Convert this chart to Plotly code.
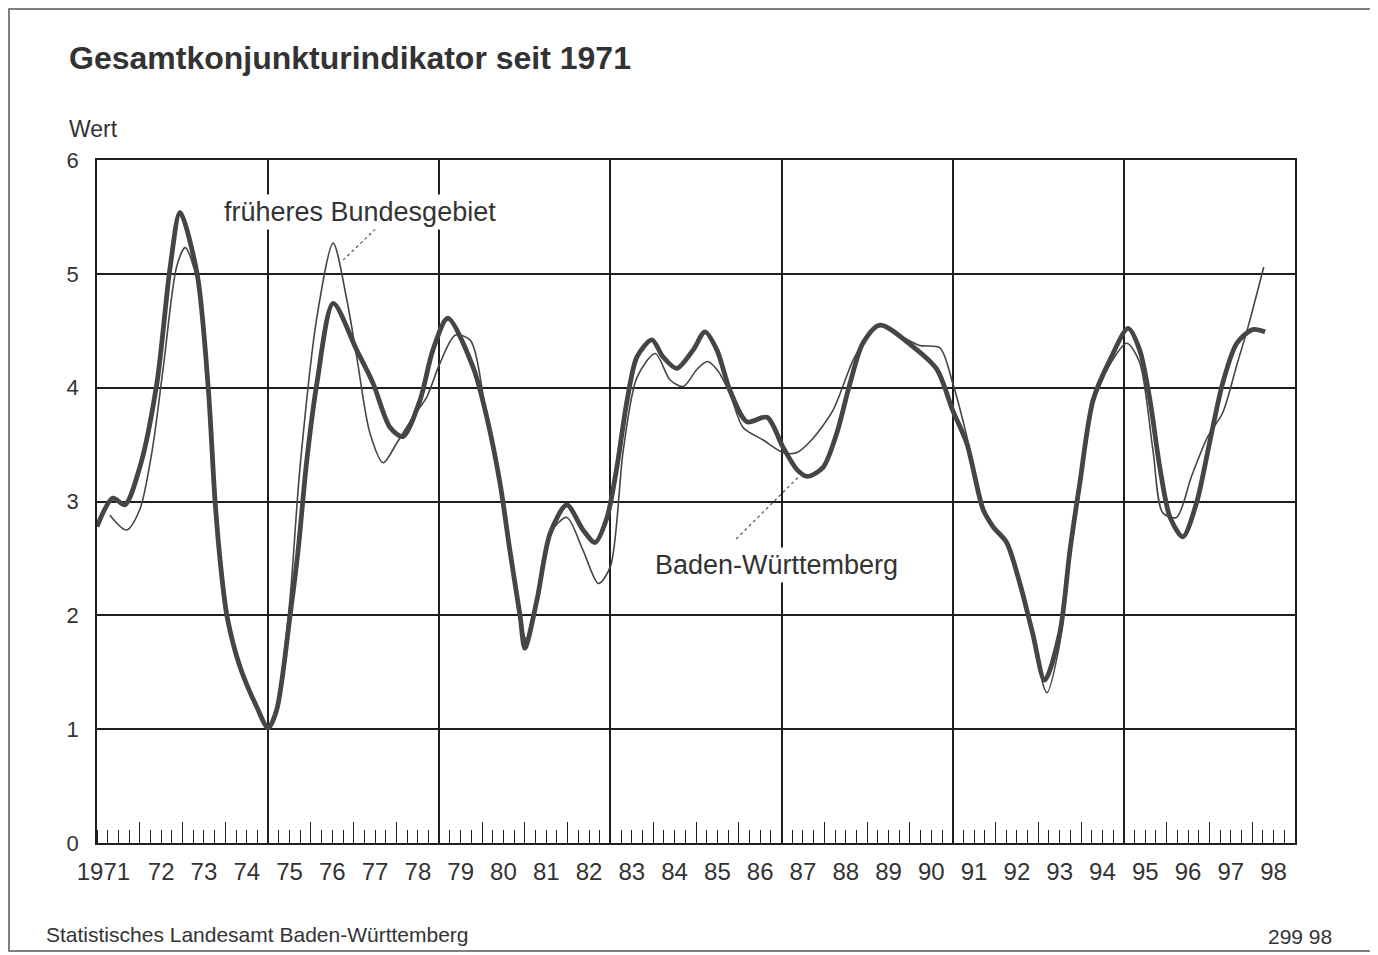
import plotly.graph_objects as go

# ---- data (decimal years) ----
bw_t = [1971.0, 1971.37, 1971.65, 1972.0, 1972.4, 1972.71, 1972.94, 1973.34, 1973.6, 1973.76, 1973.9,
        1974.04, 1974.34, 1974.74, 1975.0, 1975.2, 1975.51, 1975.7, 1975.9, 1976.14, 1976.52,
        1977.07, 1977.45, 1977.85, 1978.15, 1978.55, 1978.85, 1979.2, 1979.79, 1980.11, 1980.42,
        1980.65, 1980.89, 1981.0, 1981.28, 1981.59, 1981.98, 1982.36, 1982.64, 1982.92, 1983.15,
        1983.39, 1983.62, 1983.97, 1984.23, 1984.55, 1984.93, 1985.21, 1985.49, 1985.79, 1986.19,
        1986.66, 1987.03, 1987.36, 1987.6, 1987.97, 1988.29, 1988.6, 1988.9, 1989.3, 1990.07,
        1990.63, 1991.0, 1991.33, 1991.71, 1991.94, 1992.26, 1992.57, 1992.87, 1993.15, 1993.5,
        1993.74, 1993.97, 1994.28, 1994.67, 1995.1, 1995.37, 1995.61, 1995.84, 1996.08, 1996.38,
        1996.7, 1997.0, 1997.31, 1997.64, 1998.01, 1998.3]
bw_v = [2.78, 3.03, 2.97, 3.30, 4.04, 5.06, 5.54, 5.00, 4.00, 3.00, 2.40,
        1.99, 1.55, 1.19, 1.01, 1.17, 1.99, 2.57, 3.35, 4.04, 4.74,
        4.33, 4.04, 3.65, 3.57, 3.89, 4.33, 4.61, 4.18, 3.74, 3.16,
        2.57, 1.99, 1.71, 2.13, 2.72, 2.97, 2.75, 2.64, 2.86, 3.30,
        3.89, 4.27, 4.42, 4.27, 4.17, 4.33, 4.49, 4.33, 3.98, 3.70,
        3.74, 3.48, 3.28, 3.22, 3.30, 3.60, 4.04, 4.39, 4.55, 4.36,
        4.16, 3.80, 3.51, 2.93, 2.78, 2.64, 2.28, 1.84, 1.43, 1.84,
        2.57, 3.16, 3.89, 4.24, 4.52, 4.33, 3.89, 3.30, 2.86, 2.69,
        2.99, 3.51, 4.04, 4.39, 4.51, 4.49]

fb_t = [1971.3, 1971.69, 1972.0, 1972.29, 1972.55, 1972.86, 1973.06, 1973.34, 1973.6, 1973.76,
        1974.04, 1974.34, 1974.74, 1975.0, 1975.2, 1975.5, 1975.74, 1976.14, 1976.52, 1976.84,
        1977.07, 1977.38, 1977.69, 1978.0, 1978.4, 1978.71, 1979.0, 1979.37, 1979.72, 1980.11,
        1980.42, 1980.65, 1980.89, 1981.05, 1981.3, 1981.59, 1981.98, 1982.36, 1982.72, 1983.0,
        1983.3, 1983.62, 1984.05, 1984.39, 1984.7, 1985.02, 1985.26, 1985.49, 1985.79, 1986.1,
        1986.57, 1987.03, 1987.36, 1987.7, 1988.2, 1988.67, 1989.0, 1989.3, 1989.8, 1990.23,
        1990.7, 1991.0, 1991.33, 1991.71, 1991.94, 1992.26, 1992.57, 1992.87, 1993.2, 1993.5,
        1993.74, 1993.97, 1994.28, 1994.67, 1995.07, 1995.37, 1995.68, 1995.91, 1996.23, 1996.58,
        1996.96, 1997.31, 1997.64, 1997.9, 1998.27]
fb_v = [2.88, 2.75, 2.93, 3.45, 4.18, 5.06, 5.23, 4.95, 3.95, 2.95,
        1.97, 1.53, 1.18, 1.00, 1.20, 2.10, 3.28, 4.62, 5.27, 4.77,
        4.27, 3.60, 3.34, 3.51, 3.75, 3.92, 4.20, 4.46, 4.42, 3.74,
        3.16, 2.55, 1.95, 1.78, 2.20, 2.72, 2.86, 2.57, 2.28, 2.43,
        3.45, 4.09, 4.30, 4.07, 4.01, 4.16, 4.23, 4.16, 3.95, 3.65,
        3.54, 3.43, 3.43, 3.54, 3.80, 4.24, 4.45, 4.55, 4.45, 4.37,
        4.35, 4.04, 3.57, 2.93, 2.78, 2.64, 2.28, 1.80, 1.32, 1.75,
        2.50, 3.10, 3.85, 4.20, 4.39, 4.22, 3.45, 2.90, 2.86, 3.22,
        3.57, 3.78, 4.20, 4.53, 5.06]

year_label_pos = [1971.15] + [1972.5 + i for i in range(27)]
year_labels = ["1971"] + [str(y)[2:] for y in range(1972, 1999)]
year_bounds = list(range(1971, 2000))
grid_years = [1975, 1979, 1983, 1987, 1991, 1995]
y_ticks = [0, 1, 2, 3, 4, 5, 6]

# ---- figure geometry (page pixels; the page body adds an 8px offset) ----
OFF = 8
W, H = 1378 - OFF, 955 - OFF
L, R, T, B = 97, 1295, 160, 843
pw, ph = R - L, B - T

def px(x):
    return (x - L) / pw

def py(y):
    return (B - y) / ph

LINE = "#454545"
TXT = "#333333"
GRID = "#1e1e1e"
FONT = "Liberation Sans, Arial, sans-serif"

fig = go.Figure()
fig.add_trace(go.Scatter(x=fb_t, y=fb_v, mode="lines", line=dict(color=LINE, width=1.6, shape="spline", smoothing=0.8),
                         showlegend=False, hoverinfo="skip", name="früheres Bundesgebiet"))
fig.add_trace(go.Scatter(x=bw_t, y=bw_v, mode="lines", line=dict(color=LINE, width=4.8, shape="spline", smoothing=0.8),
                         showlegend=False, hoverinfo="skip", name="Baden-Württemberg"))
for ax in ["x2", "x3"]:
    fig.add_trace(go.Scatter(x=[1971], y=[0], xaxis=ax, yaxis="y", mode="markers",
                             marker=dict(opacity=0), showlegend=False, hoverinfo="skip"))

fig.update_layout(
    width=W, height=H,
    margin=dict(l=L - OFF, r=W - (R - OFF), t=T - OFF, b=H - (B - OFF), pad=0),
    paper_bgcolor="white", plot_bgcolor="white",
    font=dict(family=FONT, color=TXT),
    xaxis=dict(range=[1971, 1999], tickmode="array", tickvals=year_label_pos, ticktext=year_labels,
               ticks="", showgrid=False, zeroline=False, showline=True, mirror=True,
               linecolor=GRID, linewidth=1.5, tickfont=dict(size=24, color=TXT),
               ticklabelstandoff=6,
               minor=dict(tickmode="linear", tick0=1971, dtick=0.25, ticks="inside", ticklen=13,
                          tickcolor=GRID, tickwidth=1.2, showgrid=False)),
    xaxis2=dict(range=[1971, 1999], overlaying="x", side="bottom", tickmode="array", tickvals=year_bounds,
                ticks="inside", ticklen=21, tickcolor=GRID, tickwidth=1.2, showticklabels=False,
                showgrid=False, zeroline=False, showline=False),
    xaxis3=dict(range=[1971, 1999], overlaying="x", side="bottom", tickmode="array", tickvals=grid_years,
                ticks="", showticklabels=False, showgrid=True, gridcolor=GRID, gridwidth=1.5,
                zeroline=False, showline=False),
    yaxis=dict(range=[0, 6], tickmode="array", tickvals=y_ticks, ticks="", showgrid=True,
               gridcolor=GRID, gridwidth=1.5, zeroline=False, showline=True, mirror=True,
               linecolor=GRID, linewidth=1.5, tickfont=dict(size=22, color=TXT), ticklabelstandoff=12),
)

ann = []
ann.append(dict(text="<b>Gesamtkonjunkturindikator seit 1971</b>", xref="paper", yref="paper",
                x=px(67), y=py(58), xanchor="left", yanchor="middle", showarrow=False,
                font=dict(size=32, color=TXT)))
ann.append(dict(text="Wert", xref="paper", yref="paper", x=px(67), y=py(129), xanchor="left",
                yanchor="middle", showarrow=False, font=dict(size=23, color=TXT)))
ann.append(dict(text="Statistisches Landesamt Baden-Württemberg", xref="paper", yref="paper",
                x=px(44), y=py(935), xanchor="left", yanchor="middle", showarrow=False,
                font=dict(size=21, color=TXT)))
ann.append(dict(text="299 98", xref="paper", yref="paper", x=px(1334), y=py(936), xanchor="right",
                yanchor="middle", showarrow=False, font=dict(size=21, color=TXT)))
ann.append(dict(text="früheres Bundesgebiet", xref="x", yref="y", x=1977.15, y=5.54, xanchor="center",
                yanchor="middle", showarrow=False, font=dict(size=27, color=TXT),
                bgcolor="white", borderpad=2))
ann.append(dict(text="Baden-Württemberg", xref="x", yref="y", x=1986.89, y=2.44, xanchor="center",
                yanchor="middle", showarrow=False, font=dict(size=27, color=TXT),
                bgcolor="white", borderpad=2))
fig.update_layout(annotations=ann)

shapes = []
shapes.append(dict(type="line", xref="x", yref="y", x0=1977.61, y0=5.43, x1=1976.75, y1=5.12,
                   line=dict(color="#555", width=1.2, dash="dot")))
shapes.append(dict(type="line", xref="x", yref="y", x0=1987.38, y0=3.21, x1=1985.91, y1=2.66,
                   line=dict(color="#555", width=1.2, dash="dot")))
shapes.append(dict(type="rect", xref="paper", yref="paper", x0=px(9), x1=px(1372), y0=py(951), y1=py(9),
                   line=dict(color="#555", width=1.5), fillcolor="rgba(0,0,0,0)", layer="below"))
fig.update_layout(shapes=shapes)

fig.write_html("out.html")
